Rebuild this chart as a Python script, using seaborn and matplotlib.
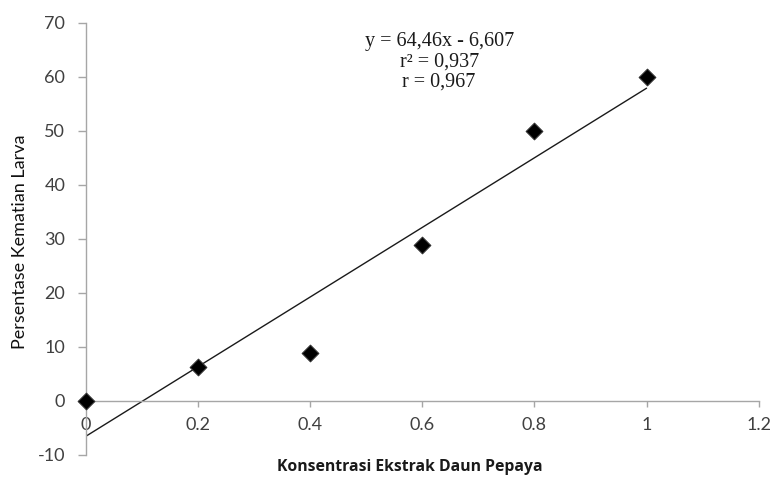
import matplotlib
matplotlib.use("Agg")
import matplotlib.pyplot as plt
import seaborn as sns
import numpy as np
import pandas as pd

konsentrasi = [0.0, 0.2, 0.4, 0.6, 0.8, 1.0]
kematian = [0.0, 6.3, 8.8, 28.8, 50.0, 60.0]
x_ticks = [0, 0.2, 0.4, 0.6, 0.8, 1, 1.2]
x_tick_labels = ["0", "0.2", "0.4", "0.6", "0.8", "1", "1.2"]
y_ticks = [-10, 0, 10, 20, 30, 40, 50, 60, 70]
y_tick_labels = ["-10", "0", "10", "20", "30", "40", "50", "60", "70"]
eq_lines = ["y = 64,46x - 6,607", "r\u00b2 = 0,937", "r = 0,967"]

df = pd.DataFrame({"x": konsentrasi, "y": kematian})

sns.set_style("white")
plt.rcParams['font.family'] = ['Lato', 'DejaVu Sans']
plt.rcParams['axes.unicode_minus'] = False

fig = plt.figure(figsize=(7.71, 4.78), dpi=100)
ax = fig.add_axes([0.1115, 0.0487, 0.8725, 0.9038])

sns.regplot(data=df, x="x", y="y", ax=ax, ci=None, truncate=True,
            scatter=False, line_kws=dict(color="#1a1a1a", lw=1.0))
sns.scatterplot(data=df, x="x", y="y", ax=ax, marker="D", s=72,
                color="black", edgecolor="#333333", linewidth=0.8, zorder=5,
                clip_on=False)

ax.set_xlim(0, 1.2)
ax.set_ylim(-10, 70)
ax.set_xticks(x_ticks)
ax.set_xticklabels(x_tick_labels)
ax.set_yticks(y_ticks)
ax.set_yticklabels(y_tick_labels)

for s in ["top", "right"]:
    ax.spines[s].set_visible(False)
ax.spines["bottom"].set_position(("data", 0))
ax.spines["left"].set_position(("data", 0))
for s in ["bottom", "left"]:
    ax.spines[s].set_color("#a6a6a6")
    ax.spines[s].set_linewidth(1.0)

ax.tick_params(axis="x", direction="out", length=4, width=1, color="#a6a6a6",
               pad=8, labelsize=13, labelcolor="#404040", bottom=True)
ax.tick_params(axis="y", direction="out", length=6, width=1, color="#a6a6a6",
               pad=9, labelsize=13, labelcolor="#404040", left=True)

ax.set_xlabel("")
ax.set_ylabel("")
fig.text(410 / 771, 1 - 467 / 478, "Konsentrasi Ekstrak Daun Pepaya",
         ha="center", va="center", fontsize=11.3, fontweight="bold",
         color="#1a1a1a", family=["Open Sans", "DejaVu Sans"])
fig.text(20 / 771, 1 - 242 / 478, "Persentase Kematian Larva",
         ha="center", va="center", rotation=90, fontsize=13,
         color="#111111", family=["Lato", "DejaVu Sans"])

for i, line in enumerate(eq_lines):
    ax.text(0.63, 66.5 - i * 3.7, line, ha="center", va="center",
            fontsize=14.5, color="#1a1a1a", family=["Liberation Serif", "DejaVu Serif"])

fig.savefig("out.png", dpi=100)
